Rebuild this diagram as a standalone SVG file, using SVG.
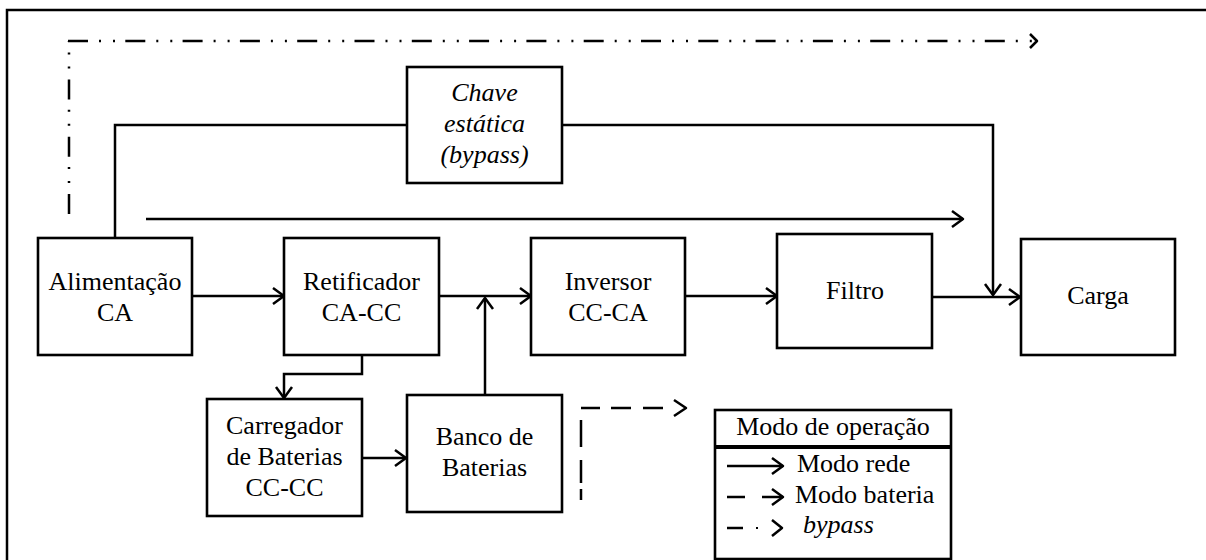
<svg xmlns="http://www.w3.org/2000/svg" width="1206" height="560" viewBox="0 0 1206 560">
  <style>
    .box { fill: #fff; stroke: #000; stroke-width: 2.6; }
    .ln { fill: none; stroke: #000; stroke-width: 2.5; }
    .dd { fill: none; stroke: #000; stroke-width: 2.5; stroke-dasharray: 20 11 2 12 2 10.3; }
    .lbl { text-anchor: middle; }
    .it { font-style: italic; }
  </style>
  <defs>
    <marker id="arr" markerUnits="userSpaceOnUse" viewBox="-14 -12 16 24" refX="0" refY="0" markerWidth="16" markerHeight="24" orient="auto">
      <path d="M-11,-8 L0,0 L-11,8" fill="none" stroke="#000" stroke-width="2.5" stroke-linejoin="round"/>
    </marker>
    <marker id="arrs" markerUnits="userSpaceOnUse" viewBox="-12 -10 14 20" refX="0" refY="0" markerWidth="14" markerHeight="20" orient="auto">
      <path d="M-7,-7 L0,0 L-7,7" fill="none" stroke="#000" stroke-width="2.5" stroke-linejoin="round"/>
    </marker>
  </defs>

  <rect width="1206" height="560" fill="#fff"/>
  <!-- frame -->
  <path class="ln" d="M7,560 V10 H1206" stroke-width="3"/>

  <g id="connectors">
    <!-- bypass route -->
    <path class="dd" d="M69,214 V41"/>
    <path class="dd" d="M68,41 H1037" marker-end="url(#arrs)"/>
    <!-- mains through static switch -->
    <path class="ln" d="M115,238 V125 H407"/>
    <path class="ln" d="M562,125 H993 V295" marker-end="url(#arr)"/>
    <path class="ln" d="M146,219 H963" marker-end="url(#arr)"/>
    <!-- main chain -->
    <path class="ln" d="M192,296 H284" marker-end="url(#arr)"/>
    <path class="ln" d="M439,296 H531" marker-end="url(#arr)"/>
    <path class="ln" d="M485,395 V298" marker-end="url(#arr)"/>
    <path class="ln" d="M685,296 H777" marker-end="url(#arr)"/>
    <path class="ln" d="M932,297 H1020" marker-end="url(#arr)"/>
    <path class="ln" d="M362,355 V374 H284 V398" marker-end="url(#arr)"/>
    <path class="ln" d="M362,458 H406" marker-end="url(#arr)"/>
    <!-- battery mode route -->
    <path class="ln" d="M581,420 V447 M581,460 V483 M581,489 V500"/>
    <path class="ln" d="M581,408 H600 M611,408 H631 M643,408 H663"/>
    <path class="ln" d="M674,400 L686,408 L674,416" stroke-linejoin="round"/>
  </g>

  <g font-family="Liberation Serif, Tinos, Times New Roman, Noto Serif, DejaVu Serif, serif" font-size="26" fill="#000">
    <g id="alimentacao">
      <rect class="box" x="38" y="238" width="154" height="117"/>
      <text class="lbl" x="115" y="290">Alimentação</text>
      <text class="lbl" x="115" y="321">CA</text>
    </g>
    <g id="retificador">
      <rect class="box" x="284" y="238" width="155" height="117"/>
      <text class="lbl" x="361.5" y="290">Retificador</text>
      <text class="lbl" x="361.5" y="321">CA-CC</text>
    </g>
    <g id="inversor">
      <rect class="box" x="531" y="238" width="154" height="117"/>
      <text class="lbl" x="608" y="290">Inversor</text>
      <text class="lbl" x="608" y="321">CC-CA</text>
    </g>
    <g id="filtro">
      <rect class="box" x="777" y="234" width="155" height="114"/>
      <text class="lbl" x="855" y="299">Filtro</text>
    </g>
    <g id="carga">
      <rect class="box" x="1021" y="239" width="154" height="116"/>
      <text class="lbl" x="1098" y="304">Carga</text>
    </g>
    <g id="chave">
      <rect class="box" x="407" y="67" width="155" height="116"/>
      <text class="lbl it" x="484.5" y="101">Chave</text>
      <text class="lbl it" x="484.5" y="132">estática</text>
      <text class="lbl it" x="484.5" y="163">(bypass)</text>
    </g>
    <g id="carregador">
      <rect class="box" x="207" y="399" width="155" height="117"/>
      <text class="lbl" x="284.5" y="434">Carregador</text>
      <text class="lbl" x="284.5" y="465">de Baterias</text>
      <text class="lbl" x="284.5" y="496">CC-CC</text>
    </g>
    <g id="banco">
      <rect class="box" x="407" y="395" width="155" height="117"/>
      <text class="lbl" x="484.5" y="445">Banco de</text>
      <text class="lbl" x="484.5" y="476">Baterias</text>
    </g>

    <g id="legenda">
      <rect class="box" x="715" y="410" width="236" height="149"/>
      <line x1="715" y1="447" x2="951" y2="447" stroke="#000" stroke-width="4"/>
      <text class="lbl" x="833" y="435">Modo de operação</text>
      <path class="ln" d="M727,466 H783" marker-end="url(#arr)"/>
      <text x="797" y="472">Modo rede</text>
      <path class="ln" d="M727,497 H745 M762,497 H783" marker-end="url(#arr)"/>
      <text x="795" y="503">Modo bateria</text>
      <path class="ln" d="M727,528 H743"/>
      <rect x="756" y="527" width="2" height="2" fill="#000"/>
      <path class="ln" d="M772,520 L782,528 L772,536" stroke-linejoin="round"/>
      <text class="it" x="803" y="533">bypass</text>
    </g>
  </g>
</svg>
